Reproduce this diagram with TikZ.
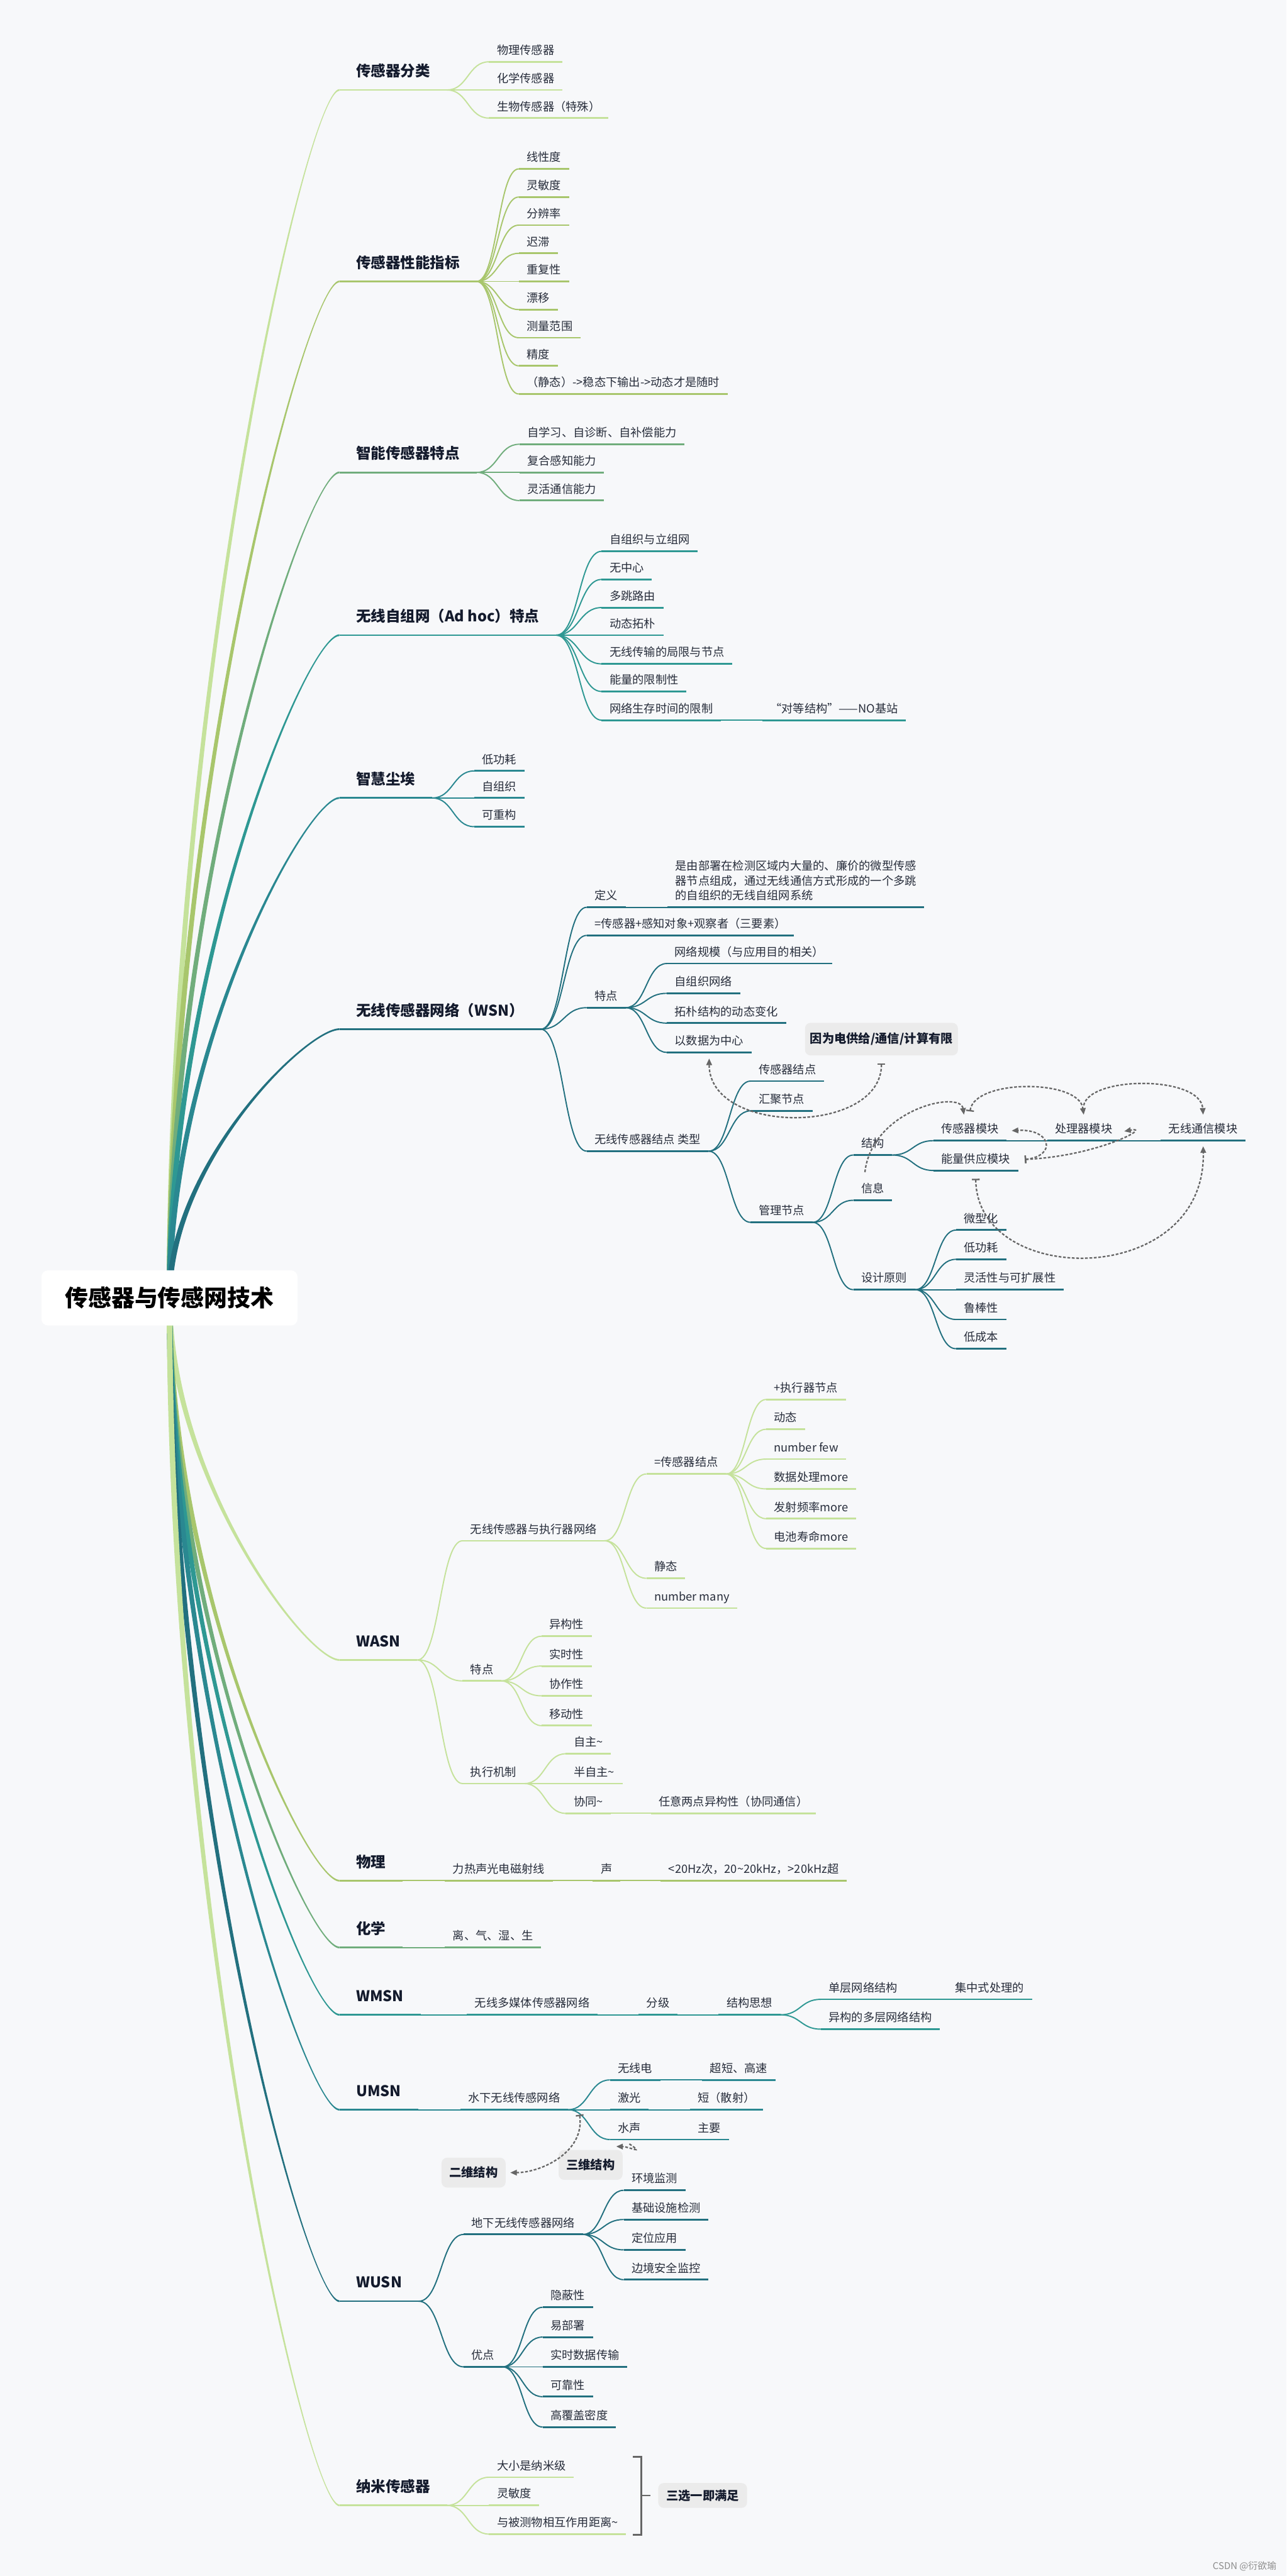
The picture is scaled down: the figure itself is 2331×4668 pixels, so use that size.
\documentclass[tikz,border=0pt]{standalone}
\usepackage{fontspec}
\setmainfont{Noto Sans CJK SC}
\usetikzlibrary{calc,arrows.meta}
\definecolor{bgc}{HTML}{F7F8FA}
\definecolor{ink}{HTML}{141B2D}
\definecolor{ink2}{HTML}{272D3B}
\definecolor{c1}{HTML}{C5E29B}
\definecolor{c2}{HTML}{A8C66C}
\definecolor{c3}{HTML}{70AD7C}
\definecolor{c4}{HTML}{2E9893}
\definecolor{c5}{HTML}{2A8891}
\definecolor{c6}{HTML}{22707F}
\definecolor{notebg}{HTML}{EBEBEB}
\definecolor{relc}{HTML}{666666}
\colorlet{brc}{c1}
\newcommand{\tld}{\symbol{126}}
% tapered main branch from the root to a title (#2/#3: offsets at the root)
\newcommand{\trunkto}[3]{\begin{pgfonlayer}{lines}
  \fill[brc] ($(root.center)+(#2,0)$) .. controls ($(root.center)!0.5!(root.center |- #1.south west)+(#2,0)$) and ($(#1.south west)+(-60,-1.6)$) .. ($(#1.south west)+(0,-1.6)$)
    -- ($(#1.south west)+(0,1.6)$) .. controls ($(#1.south west)+(-60,1.6)$) and ($(root.center)!0.5!(root.center |- #1.south west)+(#3,0)$) .. ($(root.center)+(#3,0)$) -- cycle;
  \end{pgfonlayer}}
\pgfdeclarelayer{bg}\pgfdeclarelayer{lines}\pgfsetlayers{bg,lines,main}

\begin{document}
\begin{tikzpicture}[x=0.5pt,y=-0.5pt,every node/.style={inner sep=0pt},
uline/.style={draw=brc,line width=1.6pt},
ttl/.style={anchor=south west,font=\fontsize{13.4}{16}\selectfont\bfseries,text=ink,inner xsep=15pt,inner ysep=12pt,text depth=0pt,
  append after command={(\tikzlastnode.south west) edge[uline] (\tikzlastnode.south east)}},
itm/.style={anchor=south west,font=\fontsize{10.4}{13.5}\selectfont,text=ink2,inner xsep=7pt,inner ysep=6.5pt,text depth=0pt,
  append after command={(\tikzlastnode.south west) edge[uline] (\tikzlastnode.south east)}},
lnk/.style={draw=brc,line width=1.1pt,to path={.. controls ($(\tikztostart)!0.5!(\tikztostart -| \tikztotarget)$) and ($(\tikztotarget)!0.5!(\tikztotarget -| \tikztostart)$) .. (\tikztotarget) \tikztonodes}},
note/.style={fill=notebg,rounded corners=5pt,font=\fontsize{11}{13}\selectfont\bfseries,text=ink},
rel/.style={draw=relc,line width=1.3pt,dash pattern=on 2.5pt off 1.5pt,-{Triangle[length=6pt,width=5pt]}},
trel/.style={rel,{Bar[width=7pt]}-{Triangle[length=6pt,width=5pt]}}]
\useasboundingbox (0,0) rectangle (2331,4668);
\begin{pgfonlayer}{bg}\fill[bgc] (0,0) rectangle (2331,4668);\end{pgfonlayer}
\node[fill=white,rounded corners=6pt,minimum width=232pt,minimum height=50pt,font=\fontsize{21}{24}\selectfont\bfseries,text=black] (root) at (307,2352) {传感器与传感网技术};

% 传感器分类
\begin{scope}\colorlet{brc}{c1}
\node[ttl] (t1) at (615,163) {传感器分类};
\trunkto{t1}{-5}{5}
\foreach \n/\y/\t in {a1/112/物理传感器,a2/163/化学传感器,a3/214/生物传感器（特殊）}{
  \node[itm] (\n) at (886,\y) {\t}; \draw[lnk] (t1.south east) to (\n.south west);}
\end{scope}

% 性能指标
\begin{scope}\colorlet{brc}{c2}
\node[ttl] (t2) at (615,510) {传感器性能指标};
\trunkto{t2}{-5}{5}
\foreach \n/\y/\t in {b1/306/线性度,b2/357/灵敏度,b3/408/分辨率,b4/459/迟滞,b5/510/重复性,b6/561/漂移,b7/612/测量范围,b8/663/精度,b9/714/（静态）->稳态下输出->动态才是随时}{
  \node[itm] (\n) at (940,\y) {\t}; \draw[lnk] (t2.south east) to (\n.south west);}
\end{scope}

% 智能传感器
\begin{scope}\colorlet{brc}{c3}
\node[ttl] (t3) at (615,856) {智能传感器特点};
\trunkto{t3}{-5}{5}
\foreach \n/\y/\t in {c1n/805/自学习、自诊断、自补偿能力,c2n/856/复合感知能力,c3n/907/灵活通信能力}{
  \node[itm] (\n) at (941,\y) {\t}; \draw[lnk] (t3.south east) to (\n.south west);}
\end{scope}

% Ad hoc
\begin{scope}\colorlet{brc}{c4}
\node[ttl] (t4) at (615,1151) {无线自组网（Ad hoc）特点};
\trunkto{t4}{-5}{5}
\foreach \n/\y/\t in {d1/999/自组织与立组网,d2/1050/无中心,d3/1101/多跳路由,d4/1151/动态拓朴,d5/1203/无线传输的局限与节点,d6/1253/能量的限制性,d7/1305/网络生存时间的限制}{
  \node[itm] (\n) at (1090,\y) {\t}; \draw[lnk] (t4.south east) to (\n.south west);}
\node[itm] (d8) at (1381,1305) {“对等结构”——NO基站};
\draw[lnk] (d7.south east) to (d8.south west);
\end{scope}

% 智慧尘埃
\begin{scope}\colorlet{brc}{c5}
\node[ttl] (t5) at (615,1446) {智慧尘埃};
\trunkto{t5}{-5}{5}
\foreach \n/\y/\t in {e1/1397/低功耗,e2/1446/自组织,e3/1498/可重构}{
  \node[itm] (\n) at (859,\y) {\t}; \draw[lnk] (t5.south east) to (\n.south west);}
\end{scope}

% WSN
\begin{scope}\colorlet{brc}{c6}
\node[ttl] (t6) at (615,1865) {无线传感器网络（WSN）};
\trunkto{t6}{-5}{5}
\foreach \n/\y/\t in {f1/1644/定义,f2/1695/=传感器+感知对象+观察者（三要素）,f3/1826/特点,f4/2086/无线传感器结点 类型}{
  \node[itm] (\n) at (1063,\y) {\t}; \draw[lnk] (t6.south east) to (\n.south west);}
\node[itm,align=left] (f1a) at (1209,1644) {是由部署在检测区域内大量的、廉价的微型传感\\器节点组成，通过无线通信方式形成的一个多跳\\的自组织的无线自组网系统};
\draw[lnk] (f1.south east) to (f1a.south west);
\foreach \n/\y/\t in {f3a/1746/网络规模（与应用目的相关）,f3b/1800/自组织网络,f3c/1854/拓朴结构的动态变化,f3d/1907/以数据为中心}{
  \node[itm] (\n) at (1208,\y) {\t}; \draw[lnk] (f3.south east) to (\n.south west);}
\foreach \n/\y/\t in {g1/1959/传感器结点,g2/2013/汇聚节点,g3/2215/管理节点}{
  \node[itm] (\n) at (1360,\y) {\t}; \draw[lnk] (f4.south east) to (\n.south west);}
\foreach \n/\y/\t in {h1/2093/结构,h2/2175/信息,h3/2337/设计原则}{
  \node[itm] (\n) at (1546,\y) {\t}; \draw[lnk] (g3.south east) to (\n.south west);}
\node[itm] (i1) at (1691,2067) {传感器模块};
\node[itm] (i2) at (1897,2067) {处理器模块};
\node[itm] (i3) at (2103,2067) {无线通信模块};
\node[itm] (i4) at (1691,2121) {能量供应模块};
\draw[lnk] (h1.south east) to (i1.south west);
\draw[lnk] (h1.south east) to (i4.south west);
\draw[lnk] (i1.south east) to (i2.south west);
\draw[lnk] (i2.south east) to (i3.south west);
\foreach \n/\y/\t in {j1/2229/微型化,j2/2282/低功耗,j3/2337/灵活性与可扩展性,j4/2391/鲁棒性,j5/2444/低成本}{
  \node[itm] (\n) at (1732,\y) {\t}; \draw[lnk] (h3.south east) to (\n.south west);}
\node[note,minimum width=138.5pt,minimum height=29.5pt] (why) at (1597,1883) {因为电供给/通信/计算有限};
\end{scope}
% relations
\draw[trel] ([yshift=-7pt]why.south) .. controls +(0,130) and +(0,140) .. ([yshift=-5.5pt]f3d.south);
\draw[trel] ([yshift=26.5pt]i1.south) .. controls (1765,1955) and (1955,1955) .. ([yshift=23.5pt]i2.south);
\draw[rel] ([yshift=32pt]i2.south) .. controls (1975,1949) and (2175,1949) .. ([yshift=23.5pt]i3.south);
\draw[rel] ([xshift=10.5pt,yshift=25.5pt]h2.south west) .. controls (1580,2010) and (1740,1975) .. ([xshift=-5.5pt,yshift=23.5pt]i1.south);
\draw[trel] ([xshift=6pt,yshift=10pt]i4.south east) .. controls (1990,2095) and (2090,2040) .. ([xshift=3.5pt,yshift=8.5pt]i2.south east);
\draw[trel] ([xshift=6pt,yshift=10pt]i4.south east) .. controls (1915,2095) and (1905,2045) .. ([xshift=4.5pt,yshift=9pt]i1.south east);
\draw[trel] ([yshift=-7.5pt]i4.south) .. controls (1770,2335) and (2185,2335) .. ([yshift=-5pt]i3.south);

% WASN
\begin{scope}\colorlet{brc}{c1}
\node[ttl] (t7) at (615,3008) {WASN};
\trunkto{t7}{5}{-5}
\foreach \n/\y/\t in {k1/2792/无线传感器与执行器网络,k2/3046/特点,k3/3232/执行机制}{
  \node[itm] (\n) at (838,\y) {\t}; \draw[lnk] (t7.south east) to (\n.south west);}
\foreach \n/\y/\t in {l1/2671/=传感器结点,l2/2860/静态,l3/2914/number many}{
  \node[itm] (\n) at (1171,\y) {\t}; \draw[lnk] (k1.south east) to (\n.south west);}
\foreach \n/\y/\t in {m1/2536/+执行器节点,m2/2590/动态,m3/2644/number few,m4/2698/数据处理more,m5/2752/发射频率more,m6/2806/电池寿命more}{
  \node[itm] (\n) at (1388,\y) {\t}; \draw[lnk] (l1.south east) to (\n.south west);}
\foreach \n/\y/\t in {n1/2965/异构性,n2/3019/实时性,n3/3073/协作性,n4/3127/移动性}{
  \node[itm] (\n) at (981,\y) {\t}; \draw[lnk] (k2.south east) to (\n.south west);}
\foreach \n/\y/\t in {o1/3178/自主\tld,o2/3232/半自主\tld,o3/3286/协同\tld}{
  \node[itm] (\n) at (1025,\y) {\t}; \draw[lnk] (k3.south east) to (\n.south west);}
\node[itm] (o4) at (1179,3286) {任意两点异构性（协同通信）};
\draw[lnk] (o3.south east) to (o4.south west);
\end{scope}

% 物理
\begin{scope}\colorlet{brc}{c2}
\node[ttl] (t8) at (615,3408) {物理};
\trunkto{t8}{5}{-5}
\node[itm] (p1) at (806,3408) {力热声光电磁射线};
\node[itm] (p2) at (1074,3408) {声};
\node[itm] (p3) at (1197,3408) {<20Hz次，20\tld20kHz，>20kHz超};
\draw[lnk] (t8.south east) to (p1.south west);
\draw[lnk] (p1.south east) to (p2.south west);
\draw[lnk] (p2.south east) to (p3.south west);
\end{scope}

% 化学
\begin{scope}\colorlet{brc}{c3}
\node[ttl] (t9) at (615,3529) {化学};
\trunkto{t9}{5}{-5}
\node[itm] (q1) at (806,3529) {离、气、湿、生};
\draw[lnk] (t9.south east) to (q1.south west);
\end{scope}

% WMSN
\begin{scope}\colorlet{brc}{c4}
\node[ttl] (t10) at (615,3651) {WMSN};
\trunkto{t10}{5}{-5}
\node[itm] (r1) at (846,3651) {无线多媒体传感器网络};
\node[itm] (r2) at (1157,3651) {分级};
\node[itm] (r3) at (1302,3651) {结构思想};
\node[itm] (r4) at (1487,3623) {单层网络结构};
\node[itm] (r5) at (1716,3623) {集中式处理的};
\node[itm] (r6) at (1487,3677) {异构的多层网络结构};
\draw[lnk] (t10.south east) to (r1.south west);
\draw[lnk] (r1.south east) to (r2.south west);
\draw[lnk] (r2.south east) to (r3.south west);
\draw[lnk] (r3.south east) to (r4.south west);
\draw[lnk] (r3.south east) to (r6.south west);
\draw[lnk] (r4.south east) to (r5.south west);
\end{scope}

% UMSN
\begin{scope}\colorlet{brc}{c5}
\node[ttl] (t11) at (615,3823) {UMSN};
\trunkto{t11}{5}{-5}
\node[itm] (s1) at (834,3823) {水下无线传感网络};
\draw[lnk] (t11.south east) to (s1.south west);
\foreach \n/\m/\y/\t/\u/\x in {s2/s5/3769/无线电/超短、高速/1272,s3/s6/3823/激光/短（散射）/1250,s4/s7/3877/水声/主要/1250}{
  \node[itm] (\n) at (1105,\y) {\t}; \draw[lnk] (s1.south east) to (\n.south west);
  \node[itm] (\m) at (\x,\y) {\u}; \draw[lnk] (\n.south east) to (\m.south west);}
\node[note,minimum width=58pt,minimum height=27pt] (twod) at (858,3937) {二维结构};
\node[note,minimum width=58pt,minimum height=27pt] (threed) at (1070,3923) {三维结构};
\end{scope}
\draw[trel] (1050,3832) .. controls (1060,3900) and (980,3937) .. ([xshift=4pt]twod.east);
\draw[rel] ([yshift=-4pt]s4.south) .. controls (1170,3905) and (1140,3890) .. ([xshift=-6pt,yshift=3pt]threed.north east);

% WUSN
\begin{scope}\colorlet{brc}{c6}
\node[ttl] (t12) at (615,4170) {WUSN};
\trunkto{t12}{5}{-5}
\foreach \n/\y/\t in {u1/4049/地下无线传感器网络,u2/4289/优点}{
  \node[itm] (\n) at (840,\y) {\t}; \draw[lnk] (t12.south east) to (\n.south west);}
\foreach \n/\y/\t in {v1/3969/环境监测,v2/4022/基础设施检测,v3/4077/定位应用,v4/4131/边境安全监控}{
  \node[itm] (\n) at (1130,\y) {\t}; \draw[lnk] (u1.south east) to (\n.south west);}
\foreach \n/\y/\t in {w1/4181/隐蔽性,w2/4235/易部署,w3/4289/实时数据传输,w4/4343/可靠性,w5/4398/高覆盖密度}{
  \node[itm] (\n) at (983,\y) {\t}; \draw[lnk] (u2.south east) to (\n.south west);}
\end{scope}

% 纳米传感器
\begin{scope}\colorlet{brc}{c1}
\node[ttl] (t13) at (615,4540) {纳米传感器};
\trunkto{t13}{5}{-5}
\foreach \n/\y/\t in {x1/4489/大小是纳米级,x2/4540/灵敏度,x3/4592/与被测物相互作用距离\tld}{
  \node[itm] (\n) at (886,\y) {\t}; \draw[lnk] (t13.south east) to (\n.south west);}
\end{scope}
\coordinate (brt) at (1162,4452); \coordinate (brb) at (1162,4593); \coordinate (brm) at (1162,4522);
\draw[relc,line width=1.5pt] ([xshift=-7.5pt]brt) -- (brt) -- (brb) -- ([xshift=-7.5pt]brb);
\node[note,minimum width=80.5pt,minimum height=22.5pt] (pick) at (1273,4522) {三选一即满足};
\draw[relc,line width=1.5pt] (brm) -- ([xshift=8pt]brm);

\node[anchor=east,font=\fontsize{8.5}{10}\selectfont,text=black!45] (mark) at (2313,4650) {CSDN @衍欲瑜};
\end{tikzpicture}
\end{document}
